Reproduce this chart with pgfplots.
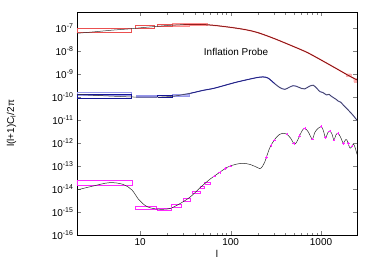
\documentclass[border=0pt]{standalone}
\usepackage{fontspec}
\setmainfont{Liberation Sans}
\usepackage{pgfplots}
\pgfplotsset{compat=1.18}
\definecolor{lred}{RGB}{255,175,175}
\definecolor{mred}{RGB}{235,80,80}
\definecolor{dblue}{RGB}{20,20,150}
\definecolor{lblue}{RGB}{150,150,235}
\definecolor{mag}{RGB}{255,40,255}
\definecolor{lmag}{RGB}{255,150,255}
\begin{document}
\fontsize{10}{12}\selectfont
\begin{tikzpicture}
\begin{axis}[name=ax, scale only axis, width=280bp, height=223bp,
 xmode=log, ymode=log, xmin=2, xmax=2500, ymin=1e-16, ymax=5.1e-7,
 xtick={10,100,1000}, xticklabels={10,100,1000},
 ytick={1e-16,1e-15,1e-14,1e-13,1e-12,1e-11,1e-10,1e-9,1e-8,1e-7},
 yticklabels={10\textsuperscript{-16},10\textsuperscript{-15},10\textsuperscript{-14},10\textsuperscript{-13},10\textsuperscript{-12},10\textsuperscript{-11},10\textsuperscript{-10},10\textsuperscript{-9},10\textsuperscript{-8},10\textsuperscript{-7}},
 yminorticks=false,
 tick align=inside, major tick length=4bp, minor tick length=2.5bp,
 tick label style={font=\fontsize{10}{12}\selectfont},
 xlabel={l}, ylabel={l(l+1)C\textsubscript{l}/2π},
 xlabel style={font=\fontsize{10}{12}\selectfont, yshift=2bp},
 ylabel style={font=\fontsize{10}{12}\selectfont, at={(axis description cs:-0.234,0.5)}, anchor=center},
 clip=true,
]
% ---------- top (red) ----------
\addplot[lred, line width=1.5pt, smooth] coordinates {
(23,1.40e-7)(30,1.445e-7)(40,1.479e-7)(60,1.380e-7)(100,1.096e-7)(150,8.51e-8)(200,6.46e-8)(300,3.63e-8)(500,1.585e-8)(700,8.91e-9)(1000,4.17e-9)(1500,1.698e-9)(2000,8.91e-10)(2500,5.62e-10)};
\addplot[fill=lred, draw=lred!80!red] coordinates {(22.5,1.23e-7)(34.5,1.23e-7)(34.5,1.62e-7)(22.5,1.62e-7)(22.5,1.23e-7)};
\addplot[fill=lred, draw=lred!80!red] coordinates {(35,1.30e-7)(55,1.30e-7)(55,1.60e-7)(35,1.60e-7)(35,1.30e-7)};
\addplot[fill=lred, draw=lred] coordinates {(1900,8.0e-10)(2150,8.0e-10)(2150,1.05e-9)(1900,1.05e-9)(1900,8.0e-10)};
\addplot[fill=lred, draw=lred] coordinates {(2300,4.6e-10)(2500,4.6e-10)(2500,6.5e-10)(2300,6.5e-10)(2300,4.6e-10)};
\addplot[mred] coordinates {(2,6.46e-8)(8,6.46e-8)(8,1e-7)(2,1e-7)(2,6.46e-8)};
\addplot[mred] coordinates {(8.8,1e-7)(14.4,1e-7)(14.4,1.38e-7)(8.8,1.38e-7)(8.8,1e-7)};
\addplot[mred] coordinates {(15.6,1.175e-7)(22.5,1.175e-7)(22.5,1.549e-7)(15.6,1.549e-7)(15.6,1.175e-7)};
\addplot[gray!40!black, line width=0.5pt, smooth] coordinates {
(2,6.03e-8)(3,6.92e-8)(5,8.32e-8)(8,9.55e-8)(10,1.047e-7)(15,1.202e-7)(20,1.318e-7)(30,1.445e-7)(40,1.479e-7)(60,1.380e-7)(100,1.096e-7)(150,8.51e-8)(200,6.46e-8)(300,3.63e-8)(500,1.585e-8)(700,8.91e-9)(1000,4.17e-9)(1500,1.698e-9)(2000,8.91e-10)(2500,5.62e-10)};
\addplot[red!65!black, line width=0.5pt, smooth] coordinates {
(30,1.445e-7)(40,1.479e-7)(60,1.380e-7)(100,1.096e-7)(150,8.51e-8)(200,6.46e-8)(300,3.63e-8)(500,1.585e-8)(700,8.91e-9)(1000,4.17e-9)(1500,1.698e-9)(2000,8.91e-10)(2500,5.62e-10)};
% ---------- middle (blue) ----------
\addplot[lblue, line width=1.2pt, smooth] coordinates {
(24,1.122e-10)(36,1.479e-10)(50,1.995e-10)(66,2.455e-10)(110,4.266e-10)(160,6.03e-10)(200,7.24e-10)(230,7.59e-10)(260,6.76e-10)(305,3.98e-10)(350,2.63e-10)(397,2.19e-10)(440,2.63e-10)(490,3.16e-10)(530,3.02e-10)(560,2.75e-10)(610,2.40e-10)(660,2.29e-10)(740,2.95e-10)(820,3.31e-10)(900,2.40e-10)(975,1.738e-10)(1050,1.585e-10)(1150,1.259e-10)(1230,1.318e-10)(1310,1.072e-10)(1450,8.32e-11)(1550,6.76e-11)(1650,6.03e-11)(1800,4.17e-11)(2000,2.75e-11)(2250,1.66e-11)(2500,1.0e-11)};
\addplot[lblue, line width=1pt] coordinates {(2,1.202e-10)(8,1.202e-10)(8,1.585e-10)(2,1.585e-10)(2,1.202e-10)};
\addplot[fill=lblue, draw=lblue] coordinates {(9,9.55e-11)(15,9.55e-11)(15,1.175e-10)(9,1.175e-10)(9,9.55e-11)};
\addplot[fill=lblue!70, draw=lblue] coordinates {(22.5,1.05e-10)(34.5,1.05e-10)(34.5,1.35e-10)(22.5,1.35e-10)(22.5,1.05e-10)};
\addplot[dblue] coordinates {(2,8.91e-11)(8,8.91e-11)(8,1.38e-10)(2,1.38e-10)(2,8.91e-11)};
\addplot[dblue] coordinates {(15.6,1.023e-10)(22.5,1.023e-10)(22.5,1.259e-10)(15.6,1.259e-10)(15.6,1.023e-10)};
\addplot[gray!40!black, line width=0.5pt, smooth] coordinates {
(2,1.318e-10)(4,1.148e-10)(8,1.023e-10)(12,1.0e-10)(18,1.023e-10)(24,1.122e-10)(36,1.479e-10)(50,1.995e-10)(66,2.455e-10)(110,4.266e-10)(160,6.03e-10)(200,7.24e-10)(230,7.59e-10)(260,6.76e-10)(305,3.98e-10)(350,2.63e-10)(397,2.19e-10)(440,2.63e-10)(490,3.16e-10)(530,3.02e-10)(560,2.75e-10)(610,2.40e-10)(660,2.29e-10)(740,2.95e-10)(820,3.31e-10)(900,2.40e-10)(975,1.738e-10)(1050,1.585e-10)(1150,1.259e-10)(1230,1.318e-10)(1310,1.072e-10)(1450,8.32e-11)(1550,6.76e-11)(1650,6.03e-11)(1800,4.17e-11)(2000,2.75e-11)(2250,1.66e-11)(2500,1.0e-11)};
\addplot[dblue, line width=0.5pt, smooth] coordinates {
(36,1.479e-10)(50,1.995e-10)(66,2.455e-10)(110,4.266e-10)(160,6.03e-10)(200,7.24e-10)(230,7.59e-10)(260,6.76e-10)(305,3.98e-10)};
% ---------- bottom (magenta) ----------
\addplot[lmag, line width=1.2pt] coordinates {(2,1.479e-14)(8.2,1.479e-14)(8.2,2.34e-14)(2,2.34e-14)(2,1.479e-14)};
\addplot[mag] coordinates {(2,1.479e-14)(8.2,1.479e-14)(8.2,2.34e-14)(2,2.34e-14)(2,1.479e-14)};
\addplot[mag] coordinates {(8.8,1.318e-15)(15.1,1.318e-15)(15.1,1.82e-15)(8.8,1.82e-15)(8.8,1.318e-15)};
\addplot[mag] coordinates {(15.6,1.148e-15)(21.9,1.148e-15)(21.9,1.445e-15)(15.6,1.445e-15)(15.6,1.148e-15)};
\addplot[mag] coordinates {(22.3,1.622e-15)(28.6,1.622e-15)(28.6,2.09e-15)(22.3,2.09e-15)(22.3,1.622e-15)};
\addplot[mag] coordinates {(29.6,3.09e-15)(36.1,3.09e-15)(36.1,4.07e-15)(29.6,4.07e-15)(29.6,3.09e-15)};
\addplot[mag] coordinates {(37.3,6.61e-15)(45.8,6.61e-15)(45.8,8.32e-15)(37.3,8.32e-15)(37.3,6.61e-15)};
\addplot[mag] coordinates {(46,1.047e-14)(51,1.047e-14)(51,1.349e-14)(46,1.349e-14)(46,1.047e-14)};
\addplot[mag] coordinates {(51.5,1.622e-14)(60,1.622e-14)(60,2.09e-14)(51.5,2.09e-14)(51.5,1.622e-14)};
\addplot[gray!30!black, line width=0.5pt, smooth, tension=0.55] coordinates {
(2,9.12e-15)(3,1.349e-14)(4.6,1.905e-14)(6.5,1.585e-14)(8.1,9.12e-15)(9.6,3.55e-15)(11.4,1.905e-15)(13,1.514e-15)(15.3,1.349e-15)(18,1.318e-15)(21.6,1.445e-15)(27.9,2.40e-15)(36.1,4.68e-15)(46.6,1.202e-14)(60,2.82e-14)(68,3.98e-14)(92,8.91e-14)(115,1.202e-13)(136,1.318e-13)(165,1.175e-13)(200,8.51e-14)(215,7.94e-14)(237,1.413e-13)(270,6.03e-13)(305,1.380e-12)(340,2.24e-12)(380,2.69e-12)(415,2.51e-12)(460,1.66e-12)(510,8.91e-13)(550,1.318e-12)(580,2.09e-12)(620,3.55e-12)(660,4.47e-12)(720,3.16e-12)(800,1.514e-12)(850,2.82e-12)(890,3.72e-12)(1000,5.25e-12)(1060,3.55e-12)(1120,1.738e-12)(1190,2.82e-12)(1250,3.39e-12)(1320,2.51e-12)(1390,1.380e-12)(1460,2.24e-12)(1540,2.69e-12)(1650,1.778e-12)(1760,1.0e-12)(1850,1.318e-12)(1930,1.380e-12)(2100,6.03e-13)(2300,8.91e-13)(2500,3.24e-13)};
\addplot[mag, only marks, mark=+, mark size=1.4pt] coordinates {
(66,3.72e-14)(76,5.25e-14)(88,7.94e-14)(100,1.0e-13)(250,2.40e-13)(280,7.94e-13)(305,1.38e-12)(420,2.51e-12)(500,1.0e-12)(580,2.09e-12)(660,4.47e-12)(800,1.514e-12)(1000,5.25e-12)(1120,1.738e-12)(1250,3.39e-12)(1390,1.38e-12)(1540,2.69e-12)(1760,1.0e-12)(2000,1.0e-12)(2200,7.5e-13)};
\node[font=\fontsize{10}{12}\selectfont] at (axis cs:115,9.3e-9) {Inflation Probe};
\end{axis}
\pgfresetboundingbox
\path ([xshift=-77bp,yshift=-32bp]ax.south west) rectangle ([xshift=17bp,yshift=12bp]ax.north east);
\end{tikzpicture}
\end{document}
